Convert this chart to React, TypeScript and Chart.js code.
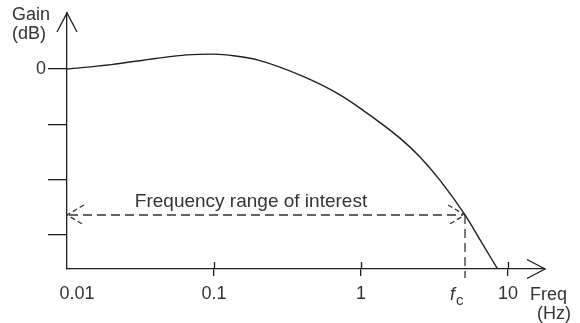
import React, { useEffect, useRef } from "react";
import { Chart, registerables } from "chart.js";

Chart.register(...registerables);

// Data
const freqHz = [0.01, 0.02, 0.04, 0.065, 0.1, 0.14, 0.2, 0.4, 0.7, 1.0, 1.84, 2.52, 3.44, 5.1, 6.46, 8.55];
const gainDb = [0, 0.08, 0.19, 0.255, 0.27, 0.235, 0.16, -0.13, -0.45, -0.72, -1.25, -1.59, -2.01, -2.64, -3.09, -3.63];
const xTickValues = [0.01, 0.1, 1, 10];
const xTickLabels = ["\u2007\u20070.01", "0.1", "1", "10"];
const yTickValues = [0, -1, -2, -3];
const yTickLabels = ["0", "", "", ""];
const cutoffFreq = 5.1;
const cutoffGain = -2.64;
const xMin = 0.01;
const xMax = 17.85;
const yMin = -3.617;
const yMax = 1.013;

const FONT = "'Liberation Sans', Arial, Helvetica, sans-serif";
const LINE = "#1e1e1e";
const TEXT = "#333333";

const decorPlugin = {
  id: "decor",
  afterDraw(chart: any) {
    const { ctx, chartArea, scales } = chart;
    const xs = scales.x;
    const ys = scales.y;
    const bottom = chartArea.bottom;
    const left = chartArea.left;
    ctx.save();
    ctx.strokeStyle = LINE;
    ctx.lineWidth = 1.3;
    // upper halves of x tick marks
    ctx.beginPath();
    for (const v of xTickValues) {
      if (v === xMin) continue;
      const px = Math.round(xs.getPixelForValue(v)) + 0.5;
      ctx.moveTo(px, bottom - 7);
      ctx.lineTo(px, bottom);
    }
    ctx.stroke();
    // axis arrows
    ctx.beginPath();
    ctx.moveTo(chartArea.right - 18, bottom - 9.5);
    ctx.lineTo(chartArea.right, bottom);
    ctx.lineTo(chartArea.right - 18, bottom + 9.5);
    ctx.moveTo(left - 10, chartArea.top + 19);
    ctx.lineTo(left, chartArea.top);
    ctx.lineTo(left + 10, chartArea.top + 19);
    ctx.stroke();

    // dashed range annotation
    const x0 = xs.getPixelForValue(xMin);
    const xf = xs.getPixelForValue(cutoffFreq);
    const yf = ys.getPixelForValue(cutoffGain);
    ctx.strokeStyle = "#333";
    ctx.lineWidth = 1.3;
    ctx.setLineDash([9, 5]);
    ctx.beginPath();
    ctx.moveTo(x0 + 2, yf);
    ctx.lineTo(xf - 2, yf);
    ctx.stroke();
    ctx.beginPath();
    ctx.moveTo(xf, yf);
    ctx.lineTo(xf, bottom + 9);
    ctx.stroke();
    ctx.setLineDash([5, 3]);
    ctx.beginPath();
    ctx.moveTo(x0 + 17, yf - 10);
    ctx.lineTo(x0, yf);
    ctx.lineTo(x0 + 17, yf + 10);
    ctx.moveTo(xf - 17, yf - 10);
    ctx.lineTo(xf, yf);
    ctx.lineTo(xf - 17, yf + 10);
    ctx.stroke();
    ctx.setLineDash([]);

    // texts
    ctx.fillStyle = TEXT;
    ctx.textBaseline = "alphabetic";
    ctx.font = `19px ${FONT}`;
    ctx.textAlign = "center";
    ctx.fillText("Frequency range of interest", 251, 207);
    ctx.font = `18px ${FONT}`;
    ctx.textAlign = "left";
    ctx.fillText("Gain", 12, 20);
    ctx.fillText("(dB)", 12, 39);
    ctx.fillText("Freq", 530, 300);
    ctx.fillText("(Hz)", 537, 319);
    ctx.font = `italic 18px ${FONT}`;
    ctx.textAlign = "right";
    ctx.fillText("f", xf - 10, 300);
    ctx.font = `15px ${FONT}`;
    ctx.textAlign = "left";
    ctx.fillText("c", xf - 9, 305);
    ctx.restore();
  },
};

export default function App() {
  const canvasRef = useRef<HTMLCanvasElement | null>(null);

  useEffect(() => {
    document.body.style.margin = "0";
    const canvas = canvasRef.current;
    if (!canvas) return;
    const chart = new Chart(canvas, {
      type: "line",
      data: {
        datasets: [
          {
            data: freqHz.map((f, i) => ({ x: f, y: gainDb[i] })),
            borderColor: LINE,
            borderWidth: 1.4,
            pointRadius: 0,
            cubicInterpolationMode: "monotone",
            fill: false,
          },
        ],
      },
      options: {
        animation: false,
        responsive: false,
        devicePixelRatio: 1,
        layout: { padding: { top: 13, right: 35, left: 0, bottom: 0 } },
        plugins: { legend: { display: false }, tooltip: { enabled: false } },
        scales: {
          x: {
            type: "logarithmic",
            min: xMin,
            max: xMax,
            position: "bottom",
            afterFit: (s: any) => {
              s.height = 54;
            },
            afterBuildTicks: (s: any) => {
              s.ticks = xTickValues.map((v) => ({ value: v }));
            },
            ticks: {
              autoSkip: false,
              maxRotation: 0,
              padding: 7,
              color: TEXT,
              font: { family: FONT, size: 18 },
              callback: (v: any) => {
                const i = xTickValues.indexOf(Number(v));
                return i >= 0 ? xTickLabels[i] : "";
              },
            },
            grid: {
              drawOnChartArea: false,
              drawTicks: true,
              tickLength: 7,
              lineWidth: 1.3,
              color: (c: any) => (c.tick && c.tick.value === xMin ? "rgba(0,0,0,0)" : LINE),
            },
            border: { display: true, color: LINE, width: 1.3 },
          },
          y: {
            type: "linear",
            min: yMin,
            max: yMax,
            afterFit: (s: any) => {
              s.width = 67;
            },
            afterBuildTicks: (s: any) => {
              s.ticks = yTickValues.map((v) => ({ value: v }));
            },
            ticks: {
              padding: 2,
              color: TEXT,
              font: { family: FONT, size: 18 },
              callback: (v: any) => {
                const i = yTickValues.indexOf(Number(v));
                return i >= 0 ? yTickLabels[i] : "";
              },
            },
            grid: {
              drawOnChartArea: false,
              drawTicks: true,
              tickLength: 19,
              lineWidth: 1.3,
              color: LINE,
            },
            border: { display: true, color: LINE, width: 1.3 },
          },
        },
      },
      plugins: [decorPlugin],
    } as any);
    return () => chart.destroy();
  }, []);

  return (
    <div style={{ width: 580, height: 323, background: "#fff" }}>
      <canvas ref={canvasRef} width={580} height={323} style={{ display: "block" }} />
    </div>
  );
}
